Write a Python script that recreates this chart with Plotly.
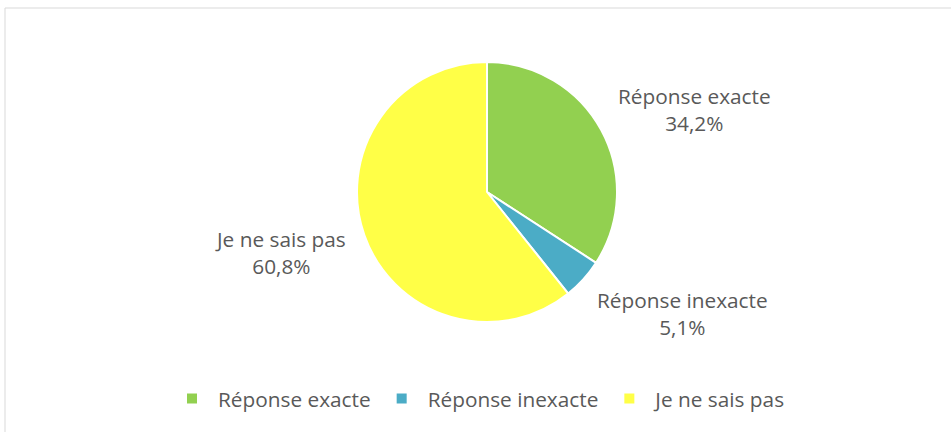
import plotly.graph_objects as go

labels = ["Réponse exacte", "Réponse inexacte", "Je ne sais pas"]
values = [34.2, 5.1, 60.8]
colors = ["#92D050", "#4BACC6", "#FFFF47"]

# label anchor positions (paper coords) for outside labels
label_pos = [(0.7231, 0.8192), (0.7112, 0.0346), (0.2780, 0.2654)]

W, H = 951, 432
L, R, T, B = 23, 0, 62, 110
pw, ph = W - L - R, H - T - B
FS = 20.8

fig = go.Figure(go.Pie(
    labels=labels, values=values, sort=False, direction="clockwise", rotation=0,
    marker=dict(colors=colors, line=dict(color="white", width=2)),
    textinfo="none", hoverinfo="label+percent",
))

for lab, val, (x, y) in zip(labels, values, label_pos):
    fig.add_annotation(
        x=x, y=y, xref="paper", yref="paper", showarrow=False,
        text=f"{lab}<br>{val:.1f}%".replace(".", ","),
        font=dict(family="Open Sans", size=FS, color="#595959"),
        xanchor="center", yanchor="middle", align="center",
    )

fig.add_shape(type="rect", xref="paper", yref="paper",
              x0=(5 - L) / pw, x1=1.2, y0=-1.0, y1=(ph + T - 8) / ph,
              line=dict(color="#D9D9D9", width=1), fillcolor="rgba(0,0,0,0)", layer="below")

fig.update_layout(
    width=W, height=H,
    margin=dict(l=L, r=R, t=T, b=B, autoexpand=False),
    paper_bgcolor="white", plot_bgcolor="white",
    font=dict(family="Open Sans", size=FS, color="#595959"),
    showlegend=True,
    legend=dict(orientation="h", x=(166 - L) / pw, xanchor="left", y=(ph + T - 399) / ph, yanchor="middle",
                itemwidth=42,
                font=dict(family="Open Sans", size=FS, color="#595959"), itemclick=False),
)
fig.write_html("out.html", config={"displayModeBar": False},
               post_script="document.body.style.margin='0px';document.body.style.overflow='hidden';")
